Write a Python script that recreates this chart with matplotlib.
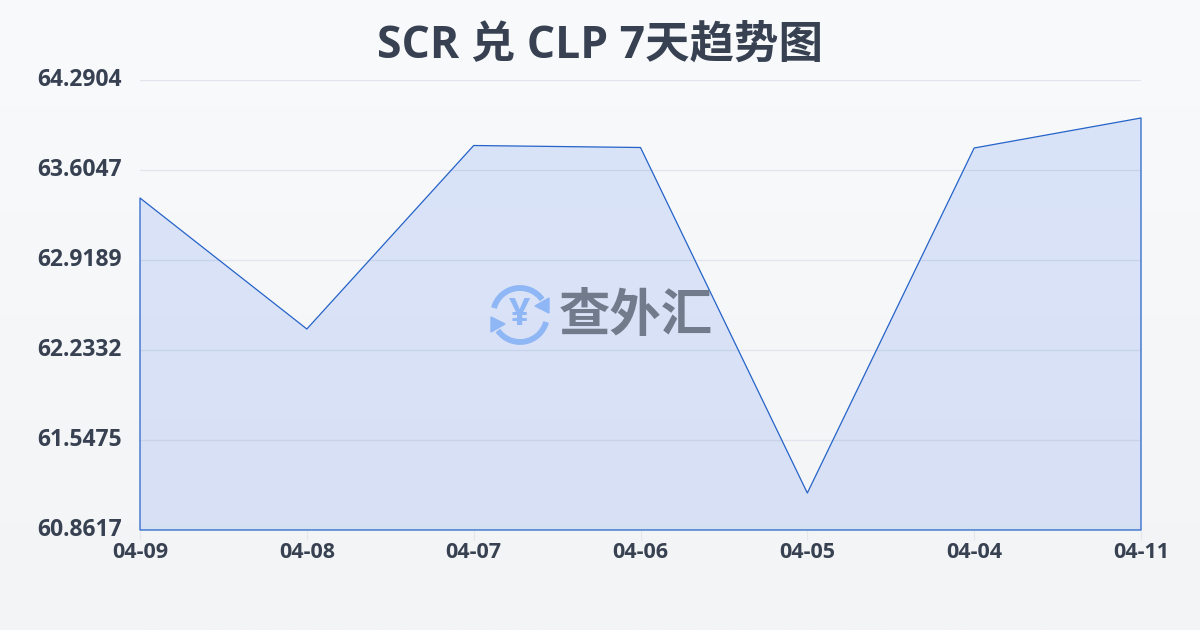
"""SCR/CLP 7 day trend chart."""
import matplotlib
matplotlib.use("Agg")
import matplotlib.pyplot as plt
from matplotlib.patches import Arc, Polygon
from matplotlib.transforms import ScaledTranslation
import numpy as np

plt.rcParams['font.family'] = ['Open Sans', 'Noto Sans CJK SC', 'DejaVu Sans']

TITLE = "SCR 兑 CLP 7天趋势图"
dates = ["04-09", "04-08", "04-07", "04-06", "04-05", "04-04", "04-11"]
rates = [63.3913, 62.3932, 63.7913, 63.7761, 61.1436, 63.7723, 64.0009]
y_ticks = [60.8617, 61.5475, 62.2332, 62.9189, 63.6047, 64.2904]

W, H = 1200, 630
TEXT = '#374151'
LINE = '#2563c9'

fig = plt.figure(figsize=(W / 100, H / 100), dpi=100)

# page background, faint vertical gradient
bg = fig.add_axes([0, 0, 1, 1], zorder=0)
grad = np.linspace(0, 1, 256)[:, None, None]
top = np.array([0xf9, 0xfa, 0xfc]) / 255
bottom = np.array([0xf3, 0xf4, 0xf6]) / 255
bg.imshow(top + (bottom - top) * grad, aspect='auto', extent=[0, 1, 0, 1])
bg.axis('off')

ax = fig.add_axes([140 / W, 1 - 530 / H, 1001 / W, 450 / H], zorder=1)
ax.patch.set_alpha(0)
x = np.arange(len(dates))
ax.set_xlim(0, len(dates) - 1)
ax.set_ylim(y_ticks[0], y_ticks[-1])

ax.fill_between(x, rates, y_ticks[0], facecolor='#2f6be8', alpha=0.145, linewidth=0, zorder=2)
ax.fill_between(x, rates, y_ticks[0], facecolor='none', edgecolor=LINE, linewidth=0.9,
                zorder=3, clip_on=False)

ax.set_yticks(y_ticks)
ax.set_yticklabels([f"{v:.4f}" for v in y_ticks])
ax.set_xticks(x)
ax.set_xticklabels(dates)
ax.grid(axis='y', color='#e2e5ec', linewidth=0.9, zorder=1)
ax.set_axisbelow(True)
ax.tick_params(axis='y', length=0, pad=13, labelsize=16.5, labelcolor=TEXT)
ax.tick_params(axis='x', length=7, width=0.8, color='#e5e7eb', pad=2, labelsize=15.5,
               labelcolor=TEXT)
for lab in ax.get_yticklabels() + ax.get_xticklabels():
    lab.set_fontweight('bold')
# y labels sit slightly above their grid lines
up = ScaledTranslation(0, 2 / 72, fig.dpi_scale_trans)
for lab in ax.get_yticklabels():
    lab.set_transform(lab.get_transform() + up)
for s in ax.spines.values():
    s.set_visible(False)

fig.text(600 / W, 1 - 46 / H, TITLE, ha='center', va='center', fontsize=32,
         fontweight='bold', color=TEXT)

# watermark logo, drawn in pixel coordinates
wm = fig.add_axes([0, 0, 1, 1], zorder=2)
wm.set_xlim(0, W)
wm.set_ylim(H, 0)
wm.axis('off')
BLUE = '#8fb6f5'
cx, cy, d = 520, 315, 54
wm.add_patch(Arc((cx, cy), d, d, theta1=195, theta2=325, color=BLUE, lw=4.2))
wm.add_patch(Arc((cx, cy), d, d, theta1=15, theta2=145, color=BLUE, lw=4.2))
wm.add_patch(Polygon([(549, 298), (549, 313), (535, 306)], color=BLUE))
wm.add_patch(Polygon([(491, 317), (491, 332), (505, 324)], color=BLUE))
wm.text(cx, cy, "¥", ha='center', va='center', fontsize=27, fontweight='bold', color=BLUE)
wm.text(636, 315, "查外汇", ha='center', va='center', fontsize=37, fontweight='bold',
        color='#727b8b', family=['Noto Sans CJK SC'])

fig.savefig("out.png", dpi=100)
